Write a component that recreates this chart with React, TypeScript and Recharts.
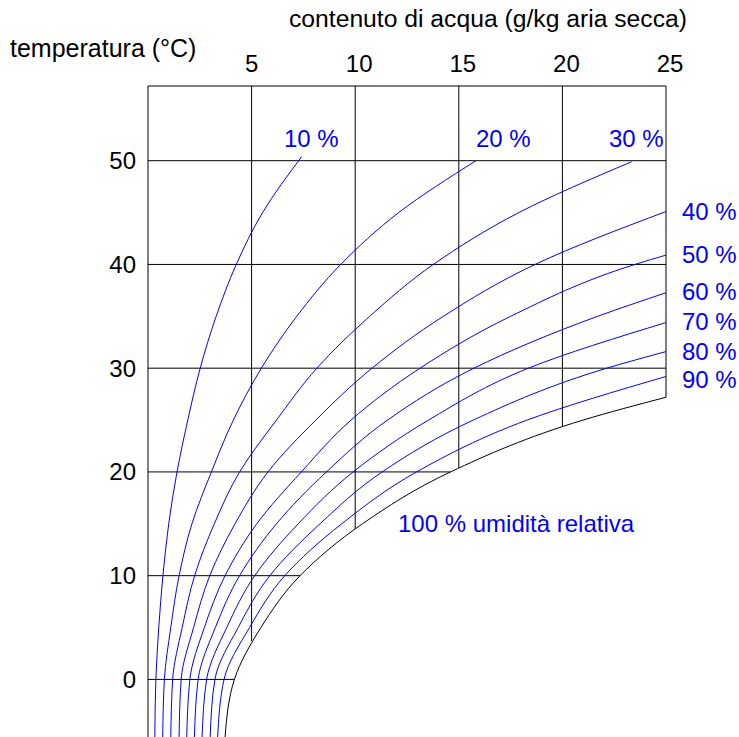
import { ComposedChart, Line, XAxis, YAxis, ReferenceLine } from 'recharts'

// ── Data ──────────────────────────────────────────────────────────────────

const waterTicks = [5, 10, 15, 20, 25]            // g/kg, top axis
const tempTicks  = [0, 10, 20, 30, 40, 50]        // °C, left axis
const waterDomain = [0, 25]
const tempDomain  = [-5.55, 57.2]

// horizontal grid lines stop on the saturation curve (x in g/kg)
const gridTempEnds  = [4.17, 7.34, 14.6, 25, 25, 25]
// vertical grid lines stop on the saturation curve (t in °C)
const gridWaterEnds = [3.7, 14.5, 20.4, 24.36, 27.2]

// relative humidity curves: [temperature °C, water content g/kg]
const rh10 = [[-5.55, 0.33], [0, 0.38], [5, 0.52], [10, 0.72], [15, 1.0], [20, 1.4], [25, 1.92], [30, 2.52], [35, 3.29], [40, 4.26], [45, 5.53], [50.4, 7.42]]
const rh20 = [[-5.55, 0.71], [0, 0.79], [5, 1.1], [10, 1.5], [15, 2.12], [20, 3.06], [25, 4.12], [30, 5.47], [35, 7.18], [40, 9.3], [45, 12.1], [50, 15.83]]
const rh30 = [[-5.55, 1.1], [0, 1.19], [5, 1.65], [10, 2.25], [15, 3.2], [20, 4.42], [25, 6.2], [30, 8.15], [35, 10.7], [40, 13.77], [45, 17.9], [49.9, 23.34]]
const rh40 = [[-5.55, 1.5], [0, 1.6], [5, 2.2], [10, 2.98], [15, 4.2], [20, 5.79], [25, 8.1], [30, 10.81], [35, 14.25], [40, 18.68], [45.1, 25]]
const rh50 = [[-5.55, 1.87], [0, 2.02], [5, 2.72], [10, 3.72], [15, 5.25], [20, 7.4], [25, 9.8], [30, 13.13], [35, 17.5], [40, 23.5], [40.9, 25]]
const rh60 = [[-5.55, 2.24], [0, 2.42], [5, 3.25], [10, 4.42], [15, 6.2], [20, 8.61], [25, 11.56], [30, 15.73], [35, 21.7], [37.27, 25]]
const rh70 = [[-5.55, 2.61], [0, 2.83], [5, 3.8], [10, 5.15], [15, 7.25], [20, 9.9], [25, 13.54], [30, 18.36], [34.4, 25]]
const rh80 = [[-5.55, 3.0], [0, 3.23], [5, 4.35], [10, 5.88], [15, 8.3], [20, 11.3], [25, 15.7], [30, 22.14], [31.6, 25]]
const rh90 = [[-5.55, 3.36], [0, 3.67], [5, 4.9], [10, 6.6], [15, 9.35], [20, 12.96], [25, 18.3], [29.2, 25]]
const rh100 = [[-5.55, 3.72], [0, 4.17], [5, 5.45], [10, 7.34], [15, 10.35], [20, 14.6], [25, 21.0], [27.2, 25]]

const blueCurves = [rh10, rh20, rh30, rh40, rh50, rh60, rh70, rh80, rh90]

// ── Helpers ───────────────────────────────────────────────────────────────

const FONT = '"Liberation Sans", Arial, sans-serif'
const BLUE = '#0000ff'

const toPoints = (pairs: number[][]) => pairs.map(([t, x]) => ({ t, x }))

// eslint-disable-next-line @typescript-eslint/no-explicit-any
const WaterTick = ({ x, y, payload }: any) => (
  <text x={x + (payload.value >= 10 ? 4 : 0)} y={y} textAnchor="middle" fontSize={24} fontFamily={FONT} fill="#000">
    {payload.value}
  </text>
)

// eslint-disable-next-line @typescript-eslint/no-explicit-any
const TempTick = ({ x, y, payload }: any) => (
  <text x={x} y={y + 8.5} textAnchor="end" fontSize={24} fontFamily={FONT} fill="#000">
    {payload.value}
  </text>
)

// ── Component ─────────────────────────────────────────────────────────────

export default function App() {
  const [tMin, tMax] = tempDomain
  return (
    <div style={{ position: 'absolute', left: 0, top: 0, width: 739, height: 737, background: '#fff' }}>
      {/* vertical layout: curves are interpolated as water content = f(temperature) */}
      <ComposedChart layout="vertical" width={739} height={737} margin={{ top: 0, right: 73, bottom: 0, left: 0 }}>
        <XAxis
          type="number"
          orientation="top"
          domain={waterDomain}
          ticks={waterTicks}
          height={86}
          axisLine={false}
          tickLine={false}
          tickSize={0}
          tickMargin={14}
          tick={<WaterTick />}
          allowDataOverflow
        />
        <YAxis
          type="number"
          dataKey="t"
          reversed
          domain={tempDomain}
          ticks={tempTicks}
          width={148}
          axisLine={false}
          tickLine={false}
          tickSize={0}
          tickMargin={12}
          tick={<TempTick />}
          allowDataOverflow
        />

        {/* frame */}
        <ReferenceLine segment={[{ x: 0, y: tMin }, { x: 0, y: tMax }]} stroke="#000" ifOverflow="visible" />
        <ReferenceLine segment={[{ x: 0, y: tMax }, { x: 25, y: tMax }]} stroke="#000" ifOverflow="visible" />

        {/* temperature grid */}
        {tempTicks.map((t, i) => (
          <ReferenceLine key={`t${t}`} segment={[{ x: 0, y: t }, { x: gridTempEnds[i], y: t }]} stroke="#000" ifOverflow="visible" />
        ))}
        {/* water content grid */}
        {waterTicks.map((w, i) => (
          <ReferenceLine key={`w${w}`} segment={[{ x: w, y: tMax }, { x: w, y: gridWaterEnds[i] }]} stroke="#000" ifOverflow="visible" />
        ))}

        {blueCurves.map((c, i) => (
          <Line
            key={`rh${i}`}
            data={toPoints(c)}
            dataKey="x"
            type="monotone"
            stroke={BLUE}
            strokeWidth={1}
            dot={false}
            activeDot={false}
            isAnimationActive={false}
          />
        ))}
        <Line
          data={toPoints(rh100)}
          dataKey="x"
          type="monotone"
          stroke="#000"
          strokeWidth={1}
          dot={false}
          activeDot={false}
          isAnimationActive={false}
        />
      </ComposedChart>

      <svg width={739} height={737} style={{ position: 'absolute', left: 0, top: 0, pointerEvents: 'none' }}>
        <g fontFamily={FONT} fontSize={24}>
          <text x={488} y={27} textAnchor="middle" fontSize={24.7} fill="#000">contenuto di acqua (g/kg aria secca)</text>
          <text x={10} y={57} fontSize={25} fill="#000">temperatura (°C)</text>
          <g fill={BLUE}>
            <text x={284} y={147}>10 %</text>
            <text x={476} y={147}>20 %</text>
            <text x={609} y={147}>30 %</text>
            <text x={682} y={220}>40 %</text>
            <text x={682} y={263}>50 %</text>
            <text x={682} y={300}>60 %</text>
            <text x={682} y={330}>70 %</text>
            <text x={682} y={360}>80 %</text>
            <text x={682} y={388}>90 %</text>
            <text x={398} y={532}>100 % umidità relativa</text>
          </g>
        </g>
      </svg>
    </div>
  )
}
